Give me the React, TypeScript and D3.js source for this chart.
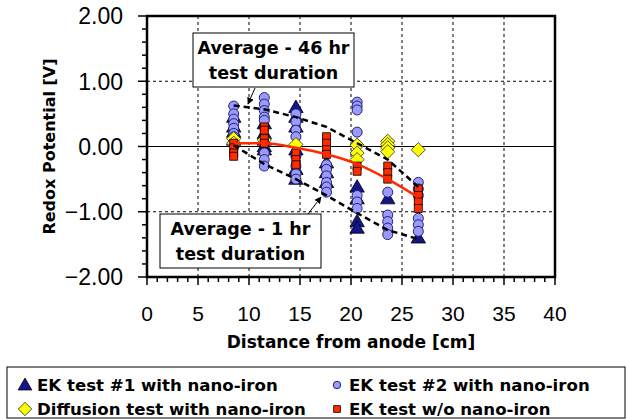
import * as d3 from "d3";
import React from "react";

// measurement columns along the cell (cm from anode)
const columns = [8.5, 11.5, 14.6, 17.6, 20.6, 23.6, 26.6];

// redox potential readings [V], one list per column
const ek1Values = [
  [0.45, 0.3, 0.22, 0.1],
  [0.35, 0.2, 0.1, 0.0, -0.05],
  [0.6, 0.45, 0.3, -0.05, -0.35, -0.5],
  [-0.25, -0.4, -0.55],
  [-0.62, -0.8, -1.15, -1.25],
  [-0.8],
  [-1.4],
];
const ek2Values = [
  [0.62, 0.5, 0.42, 0.35, 0.28, 0.2, 0.15],
  [0.75, 0.65, 0.55, 0.45, 0.4, -0.1, -0.2, -0.3],
  [0.5, 0.38, 0.25, 0.15, -0.15, -0.3, -0.42, -0.5],
  [-0.28, -0.35, -0.45, -0.55, -0.62, -0.7],
  [0.68, 0.62, 0.56, 0.22, -0.75, -0.85, -0.95],
  [-0.7, -1.05, -1.15, -1.25, -1.35],
  [-0.55, -0.65, -0.75, -1.1, -1.2, -1.3],
];
const diffusionValues = [
  [0.12, 0.05],
  [0.1],
  [0.03],
  [],
  [0.02, -0.1, -0.2],
  [0.08, 0.03, -0.02, -0.08],
  [-0.05],
];
const noIronValues = [
  [0.05, -0.02, -0.1, -0.15],
  [0.3, 0.25, 0.12, 0.05],
  [-0.1, -0.2, -0.28],
  [0.15, 0.05, -0.05, -0.12],
  [-0.3, -0.38],
  [-0.3, -0.4, -0.5],
  [-0.65, -0.75, -0.85, -0.95],
];

// averages
const avg46hr = [0.63, 0.57, 0.45, 0.3, 0.05, -0.2, -0.62];
const avg1hr = [0.02, -0.27, -0.5, -0.75, -1.02, -1.28, -1.42];
const avgNoIron = [0.05, 0.05, -0.02, -0.12, -0.27, -0.5, -0.78];

const xTicks = [0, 5, 10, 15, 20, 25, 30, 35, 40];
const yTicks = [-2, -1, 0, 1, 2];

const legendItems = [
  { label: "EK test #1 with nano-iron", kind: "tri" },
  { label: "EK test #2 with nano-iron", kind: "circ" },
  { label: "Diffusion test with nano-iron", kind: "dia" },
  { label: "EK test w/o nano-iron", kind: "sq" },
];

const W = 629;
const H = 419;

const toPoints = (vals: number[][]) =>
  columns.flatMap((c, i) => vals[i].map((v) => [c, v] as [number, number]));

const Marker: React.FC<{ kind: string; x: number; y: number; s?: number }> = ({
  kind,
  x,
  y,
  s = 1,
}) => {
  if (kind === "tri") {
    const d = d3.symbol(d3.symbolTriangle, 90 * s * s)()!;
    return (
      <path
        d={d}
        transform={`translate(${x},${y + 1})`}
        fill="#14148c"
        stroke="#000"
        strokeWidth={0.8}
      />
    );
  }
  if (kind === "circ") {
    return (
      <circle cx={x} cy={y} r={5 * s} fill="#9999ff" stroke="#22226a" strokeWidth={1} />
    );
  }
  if (kind === "dia") {
    const d = d3.symbol(d3.symbolSquare, 100 * s * s)()!;
    return (
      <path
        d={d}
        transform={`translate(${x},${y}) rotate(45)`}
        fill="#ffff00"
        stroke="#333"
        strokeWidth={0.8}
      />
    );
  }
  const d = d3.symbol(d3.symbolSquare, 64 * s * s)()!;
  return (
    <path
      d={d}
      transform={`translate(${x},${y})`}
      fill="#ff2a00"
      stroke="#000"
      strokeWidth={0.8}
    />
  );
};

const App: React.FC = () => {
  const x = d3.scaleLinear().domain([0, 40]).range([147, 555]);
  const y = d3.scaleLinear().domain([-2, 2]).range([277, 16]);

  const line = d3
    .line<number>()
    .x((_, i) => x(columns[i]))
    .y((d) => y(d));
  const smooth = d3
    .line<number>()
    .x((_, i) => x(columns[i]))
    .y((d) => y(d))
    .curve(d3.curveMonotoneX);

  const xMinor = d3.range(0, 41, 1);
  const yMinor = d3.range(-2, 2.001, 0.2);

  const series = [
    { kind: "tri", pts: toPoints(ek1Values) },
    { kind: "circ", pts: toPoints(ek2Values) },
    { kind: "dia", pts: toPoints(diffusionValues) },
    { kind: "sq", pts: toPoints(noIronValues) },
  ];

  const [x0, x1] = x.range();
  const [y0, y1] = y.range();

  return (
    <svg
      width={W}
      height={H}
      style={{ position: "absolute", left: 0, top: 0, background: "#fff" }}
    >
      <rect width={W} height={H} fill="#fff" />

      {/* grid */}
      {xTicks.slice(1, -1).map((t) => (
        <line
          key={"gx" + t}
          x1={x(t)}
          x2={x(t)}
          y1={y1}
          y2={y0}
          stroke="#000"
          strokeDasharray="3,3"
        />
      ))}
      {[-1, 1].map((t) => (
        <line
          key={"gy" + t}
          x1={x0}
          x2={x1}
          y1={y(t)}
          y2={y(t)}
          stroke="#000"
          strokeDasharray="3,3"
        />
      ))}
      <line x1={x0} x2={x1} y1={y(0)} y2={y(0)} stroke="#000" strokeWidth={1.2} />

      {/* markers */}
      {series.map((s) =>
        s.pts.map(([a, b], i) => (
          <Marker key={s.kind + i} kind={s.kind} x={x(a)} y={y(b)} />
        )),
      )}

      {/* averages */}
      <path d={smooth(avgNoIron)!} fill="none" stroke="#ff2a00" strokeWidth={2.5} />
      <path
        d={line(avg46hr)!}
        fill="none"
        stroke="#000"
        strokeWidth={2.5}
        strokeDasharray="6,4"
      />
      <path
        d={line(avg1hr)!}
        fill="none"
        stroke="#000"
        strokeWidth={2.5}
        strokeDasharray="6,4"
      />

      {/* frame */}
      <rect
        x={x0}
        y={y1}
        width={x1 - x0}
        height={y0 - y1}
        fill="none"
        stroke="#000"
        strokeWidth={2.5}
      />

      {/* x axis ticks */}
      {xMinor.map((t) => (
        <line
          key={"xt" + t}
          x1={x(t)}
          x2={x(t)}
          y1={y0}
          y2={y0 + (t % 5 === 0 ? 8 : 5)}
          stroke="#000"
          strokeWidth={1.5}
        />
      ))}
      {xTicks.map((t) => (
        <text
          key={"xl" + t}
          x={x(t)}
          y={y0 + 44}
          textAnchor="middle"
          fontFamily="Liberation Sans, Arial, sans-serif"
          fontSize={21}
        >
          {t}
        </text>
      ))}
      <text
        x={(x0 + x1) / 2}
        y={348}
        textAnchor="middle"
        fontFamily="DejaVu Sans, Verdana, sans-serif"
        fontWeight="bold"
        fontSize={17}
      >
        Distance from anode [cm]
      </text>

      {/* y axis ticks */}
      {yMinor.map((t, i) => (
        <line
          key={"yt" + i}
          x1={x0}
          x2={x0 - (i % 5 === 0 ? 9 : 5)}
          y1={y(t)}
          y2={y(t)}
          stroke="#000"
          strokeWidth={1.5}
        />
      ))}
      {yTicks.map((t) => (
        <text
          key={"yl" + t}
          x={123}
          y={y(t)}
          dy="0.36em"
          textAnchor="end"
          fontFamily="Liberation Sans, Arial, sans-serif"
          fontSize={23}
        >
          {d3.format(".2f")(t)}
        </text>
      ))}
      <text
        transform={`translate(55,${(y0 + y1) / 2}) rotate(-90)`}
        textAnchor="middle"
        fontFamily="DejaVu Sans, Verdana, sans-serif"
        fontWeight="bold"
        fontSize={16}
      >
        Redox Potential [V]
      </text>

      {/* annotations */}
      <defs>
        <marker
          id="arr"
          viewBox="0 0 10 10"
          refX={9}
          refY={5}
          markerWidth={7}
          markerHeight={7}
          orient="auto"
        >
          <path d="M0,0 L10,5 L0,10 z" fill="#000" />
        </marker>
      </defs>
      <line x1={255} y1={88} x2={248} y2={104} stroke="#000" strokeWidth={1} markerEnd="url(#arr)" />
      <line x1={308} y1={214} x2={321} y2={197} stroke="#000" strokeWidth={1} markerEnd="url(#arr)" />
      {[
        { bx: 193, by: 33, lines: ["Average - 46 hr", "test duration"] },
        { bx: 160, by: 214, lines: ["Average - 1 hr", "test duration"] },
      ].map((a, i) => (
        <g key={"ann" + i}>
          <rect x={a.bx} y={a.by} width={161} height={54} fill="#fff" stroke="#000" strokeWidth={1} />
          {a.lines.map((l, j) => (
            <text
              key={j}
              x={a.bx + 80.5}
              y={a.by + 15 + j * 25}
              dy="0.36em"
              textAnchor="middle"
              fontFamily="DejaVu Sans, Verdana, sans-serif"
              fontWeight="bold"
              fontSize={17.5}
            >
              {l}
            </text>
          ))}
        </g>
      ))}

      {/* legend */}
      <rect x={7} y={367} width={618} height={51} fill="#fff" stroke="#000" strokeWidth={1} />
      {legendItems.map((it, i) => {
        const col = i % 2;
        const row = Math.floor(i / 2);
        const lx = col === 0 ? 25 : 337;
        const ly = 385 + row * 24;
        return (
          <g key={it.label}>
            <Marker kind={it.kind} x={lx} y={ly} s={it.kind === "circ" ? 0.75 : it.kind === "sq" ? 0.85 : 0.95} />
            <text
              x={lx + 12}
              y={ly}
              dy="0.36em"
              fontFamily="DejaVu Sans, Verdana, sans-serif"
              fontWeight="bold"
              fontSize={16.6}
            >
              {it.label}
            </text>
          </g>
        );
      })}
    </svg>
  );
};

export default App;
